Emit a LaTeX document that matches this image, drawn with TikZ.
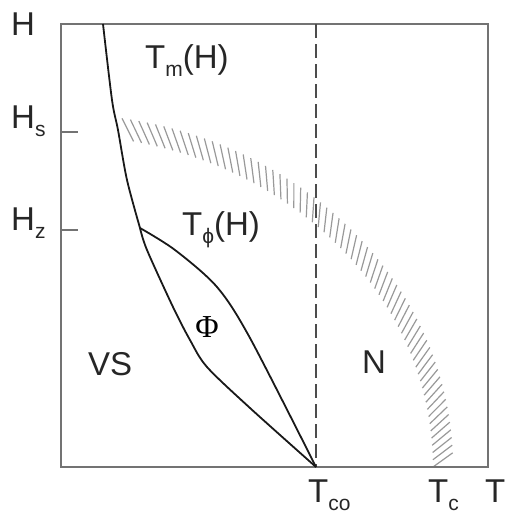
\documentclass[tikz,border=0pt]{standalone}
\usepackage{fontspec}
\setmainfont{Liberation Sans}
\newfontfamily\phiserif{Liberation Serif}
\newcommand\lowsub[1]{\raisebox{-8pt}{\fontsize{21}{21}\selectfont #1}}
\begin{document}
\begin{tikzpicture}[x=1pt,y=-1pt,
  frame/.style={draw=black!55,line width=2pt},
  curve/.style={draw=black!90,line width=1.8pt,line join=round},
  dashline/.style={draw=black!70,line width=1.6pt,dash pattern=on 14pt off 6pt},
  hatchline/.style={draw=black!40,line width=1.2pt},
  lbl/.style={inner sep=0pt,anchor=base west,font=\fontsize{33}{36}\selectfont,text=black!85}]
\useasboundingbox (0,0) rectangle (505,515);
% hatched band
\foreach \t in {0,1.25,...,79.5}{
  \draw[hatchline] ({61+372*cos(\t)},{467-332*sin(\t)}) -- ({61+392*cos(\t+2.3)},{467-353*sin(\t+2.3)});
}
% frame
\draw[frame] (61,24) rectangle (488,467);
\draw[frame] (61,132) -- (78,132);
\draw[frame] (61,230) -- (78,230);
% dashed line
\coordinate (tco) at (316,467);
\coordinate (top) at (316,24);
\coordinate (kink) at (140,228);
\draw[dashline] (top) -- (tco);
% curves
\draw[curve] plot[smooth] coordinates {(103,24) (112,100) (118,130) (127,180) (kink)};
\draw[curve] plot[smooth,tension=0.5] coordinates {(kink) (175,250) (217,287) (250,338) (tco)};
\draw[curve] plot[smooth,tension=0.5] coordinates {(kink) (147,250) (173,307) (190,340) (207,367) (250,408) (tco)};
% labels
\node[lbl] (hl) at (11,35) {H};
\node[lbl] (hs) at (11,128) {H\lowsub{s}};
\node[lbl] (hz) at (11,230) {H\lowsub{z}};
\node[lbl] (tm) at (145,68) {T\lowsub{m}(H)};
\node[lbl] (tphi) at (182,235) {T\lowsub{ϕ}(H)};
\node[inner sep=0pt,font=\phiserif\fontsize{32}{34}\selectfont] (phi) at (207,327) {Φ};
\node[lbl] (vs) at (88,375) {VS};
\node[lbl] (n) at (362,373) {N};
\node[lbl] (tcol) at (308,502) {T\lowsub{co}};
\node[lbl] (tcl) at (428,502) {T\lowsub{c}};
\node[lbl] (tl) at (485,502) {T};
\end{tikzpicture}
\end{document}
